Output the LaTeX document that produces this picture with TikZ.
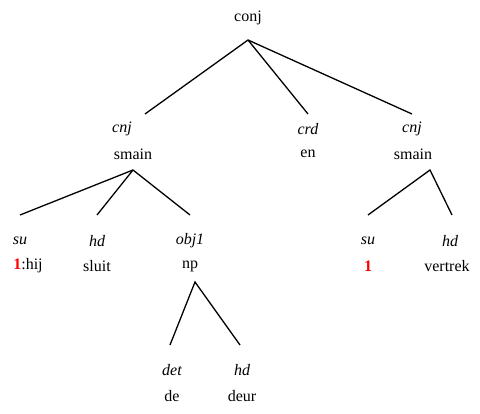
\documentclass[tikz,border=0pt]{standalone}
\usepackage{fontspec}
\setmainfont{Liberation Serif}
\newfontfamily\treefont{Liberation Serif}
\usepackage{xcolor}
\begin{document}
\begin{tikzpicture}[x=1pt,y=-1pt,
  rel/.style={font=\treefont\fontsize{16}{18}\selectfont\itshape, inner sep=0pt, anchor=center},
  cat/.style={font=\treefont\fontsize{16}{18}\selectfont, inner sep=0pt, anchor=center},
  edge/.style={line width=1.3pt}]
\useasboundingbox (0,0) rectangle (480,414);
\node[cat] (conj) at (248,18) {conj};
\coordinate (a0) at (248,40);
\node[rel] (r1) at (122,129) {cnj};
\node[cat] (c1) at (133,154) {smain};
\node[rel] (r2) at (308,129) {crd};
\node[cat] (c2) at (308,154) {en};
\node[rel] (r3) at (412,129) {cnj};
\node[cat] (c3) at (413,154) {smain};
\coordinate (e1) at (145,114);
\coordinate (e2) at (308,114);
\coordinate (e3) at (412,114);
\draw[edge] (e1) -- (a0) -- (e3);
\draw[edge] (a0) -- (e2);
% left smain
\coordinate (a1) at (133,170);
\node[rel] (r11) at (20,241) {su};
\node[cat] (c11) at (28,266) {\textcolor{red}{\textbf{1}}:hij};
\node[rel] (r12) at (97,241) {hd};
\node[cat] (c12) at (97,266) {sluit};
\node[rel] (r13) at (190,241) {obj1};
\node[cat] (c13) at (190,266) {np};
\coordinate (e11) at (20,215);
\coordinate (e12) at (97,215);
\coordinate (e13) at (190,215);
\draw[edge] (e11) -- (a1) -- (e13);
\draw[edge] (a1) -- (e12);
% np
\coordinate (a13) at (195,282);
\node[rel] (r131) at (172,370) {det};
\node[cat] (c131) at (172,396) {de};
\node[rel] (r132) at (242,370) {hd};
\node[cat] (c132) at (242,396) {deur};
\coordinate (e131) at (170,345);
\coordinate (e132) at (240,345);
\draw[edge] (e131) -- (a13) -- (e132);
% right smain
\coordinate (a3) at (430,170);
\node[rel] (r31) at (368,241) {su};
\node[cat] (c31) at (368,266) {\textcolor{red}{\textbf{1}}};
\node[rel] (r32) at (450,241) {hd};
\node[cat] (c32) at (447,266) {vertrek};
\coordinate (e31) at (368,215);
\coordinate (e32) at (452,215);
\draw[edge] (e31) -- (a3) -- (e32);
\end{tikzpicture}
\end{document}
